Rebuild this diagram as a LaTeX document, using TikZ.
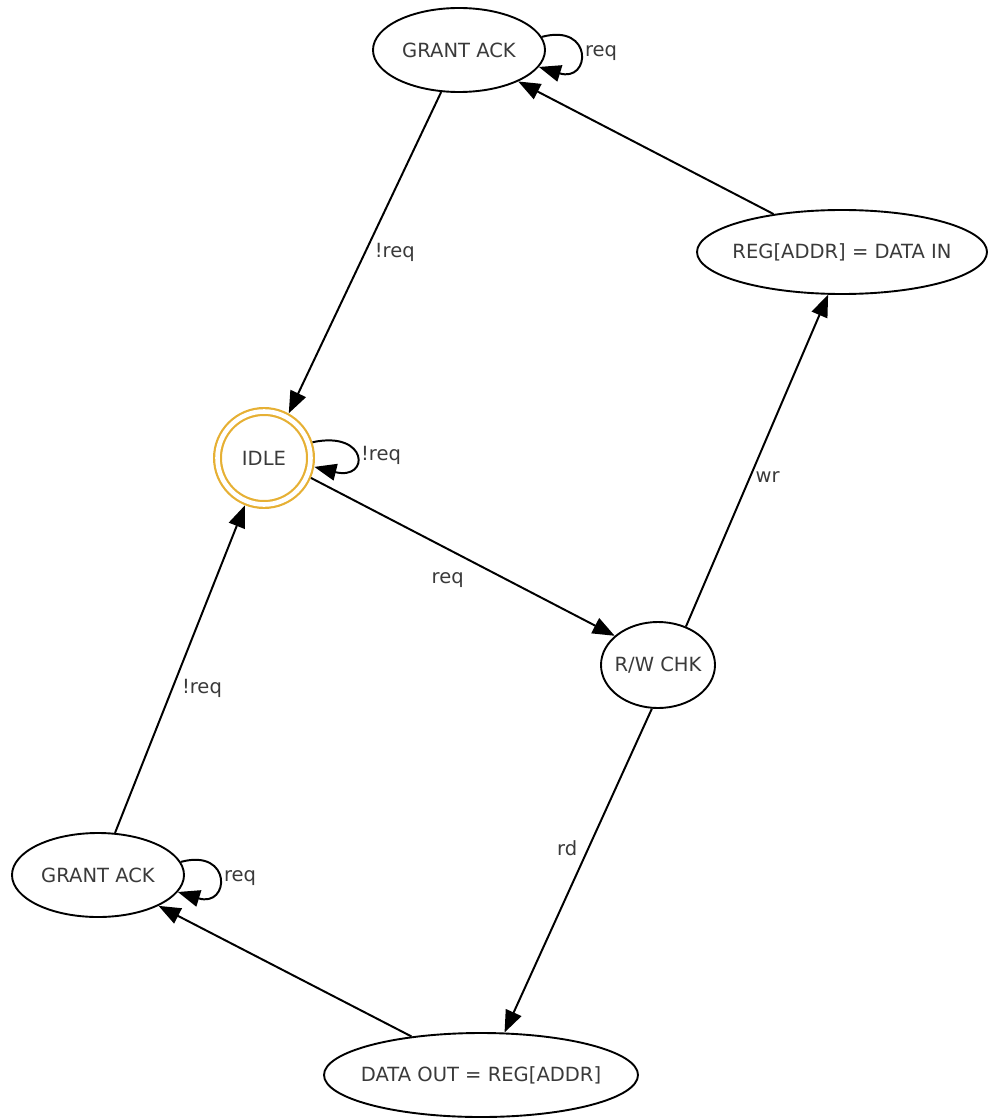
\documentclass[tikz,border=0pt]{standalone}
\usepackage{fontspec}
\setmainfont{DejaVu Sans}
\usetikzlibrary{arrows.meta,shapes.geometric}
\definecolor{fsmgold}{HTML}{E6B034}
\definecolor{fsmtext}{HTML}{3A3A3A}

\begin{document}
\begin{tikzpicture}[
    every node/.style={font=\fontsize{13.9}{16}\selectfont, text=fsmtext},
    state/.style={ellipse, draw, line width=1.35pt, inner ysep=0pt, inner xsep=-1.2cm, minimum height=2.1cm},
    trans/.style={-{Triangle[length=0.55cm, width=0.42cm]}, line width=1.4pt}
    ]
    \useasboundingbox (0,0) rectangle (24.8,-27.95);

    % States
    \node[state, minimum width=4.3cm] (grantA) at (11.475,-1.25) {GRANT ACK};
    \node[state, minimum width=7.25cm] (regin) at (21.05,-6.3) {REG[ADDR] = DATA IN};
    \node[circle, draw=fsmgold, line width=0.055cm, double=white, double distance=0.115cm,
          minimum size=2.325cm, inner sep=0pt, outer sep=0.115cm] (idle) at (6.6,-11.45) {IDLE};
    \node[state, minimum width=2.85cm, minimum height=2.15cm] (rwchk) at (16.45,-16.625) {R/W CHK};
    \node[state, minimum width=4.3cm] (grantB) at (2.45,-21.875) {GRANT ACK};
    \node[state, minimum width=7.85cm] (dataout) at (12.025,-26.875) {DATA OUT = REG[ADDR]};

    % Self loops
    \draw[trans] (grantA.9) .. controls +(1.3,0.35) and +(1.3,-0.4) .. node[right] {req} (grantA.-12);
    \draw[trans] (idle.18) .. controls +(1.4,0.3) and +(1.4,-0.35) .. node[right] {!req} (idle.-10);
    \draw[trans] (grantB.9) .. controls +(1.3,0.35) and +(1.3,-0.4) .. node[right] {req} (grantB.-12);

    % Transitions
    \draw[trans] (grantA.-113) -- node[pos=0.5, right=3pt] {!req} (idle.61);
    \draw[trans] (idle.-23) -- node[pos=0.45, below=13pt] {req} (rwchk.146);
    \draw[trans] (rwchk.54) -- node[pos=0.45, right] {wr} (regin.-108);
    \draw[trans] (regin.151) -- (grantA.-28);
    \draw[trans] (rwchk.-98) -- node[pos=0.43, left=4pt] {rd} (dataout.61);
    \draw[trans] (dataout.151) -- (grantB.-27);
    \draw[trans] (grantB.68) -- node[pos=0.44, right=3pt] {!req} (idle.-112);
\end{tikzpicture}
\end{document}
